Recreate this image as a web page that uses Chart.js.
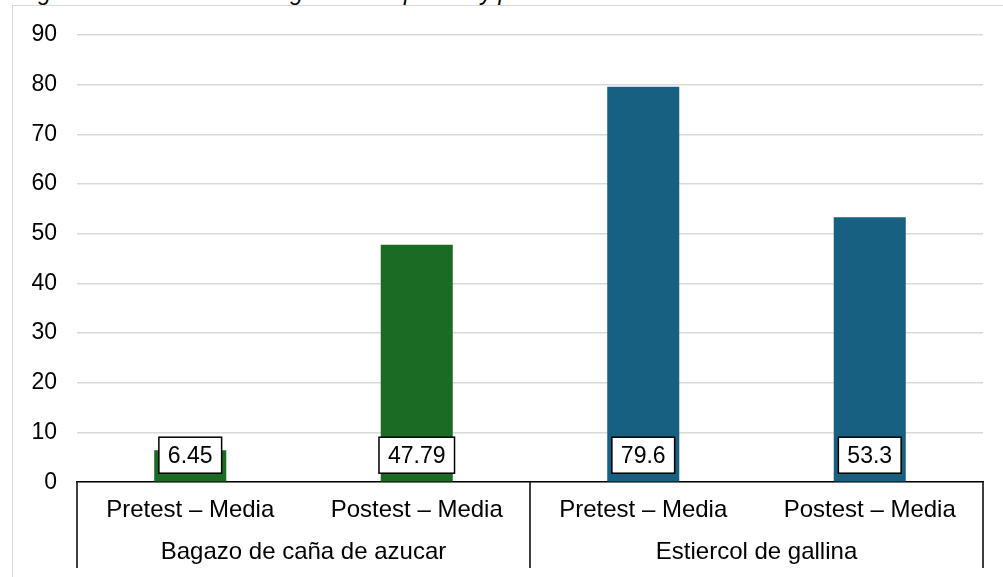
<!DOCTYPE html>
<html>
<head>
<meta charset="utf-8">
<script src="https://cdn.jsdelivr.net/npm/chart.js@4.4.0/dist/chart.umd.min.js"></script>
<style>
  html, body { margin: 0; padding: 0; background: #fff; overflow: hidden; }
  #wrap { position: relative; width: 1003px; height: 577px; }
  #frame {
    position: absolute; left: 12px; top: 5px; width: 1100px; height: 700px;
    border-left: 1px solid #d9d9d9; border-top: 1px solid #d9d9d9;
  }
  #caption {
    position: absolute; left: 14px; top: -21px; white-space: nowrap;
    font: italic 23px "Liberation Sans", Arial, sans-serif; color: #000;
  }
  #chartBox { position: absolute; left: 0; top: 0; width: 1003px; height: 577px; }
</style>
</head>
<body>
<div id="wrap">
  <div id="caption">según el contenido de nitrógeno en el pretest y postest</div>
  <div id="frame"></div>
  <div id="chartBox"><canvas id="barChart"></canvas></div>
</div>
<script>
// Data
const categories = ['Pretest – Media', 'Postest – Media', 'Pretest – Media', 'Postest – Media'];
const groups = ['Bagazo de caña de azucar', 'Estiercol de gallina'];
const groupSizes = [2, 2];
const values = [6.45, 47.79, 79.6, 53.3];
const valueLabels = ['6.45', '47.79', '79.6', '53.3'];
const barColors = ['#1b6b24', '#1b6b24', '#176082', '#176082'];
const yTicks = [0, 10, 20, 30, 40, 50, 60, 70, 80, 90];

const FONT = '"Liberation Sans", Arial, sans-serif';

/**
 * Boxed value labels sitting at the foot of each bar
 */
const boxLabels = {
  id: 'boxLabels',
  afterDatasetsDraw(chart) {
    const ctx = chart.ctx;
    const meta = chart.getDatasetMeta(0);
    const yBase = chart.scales.y.getPixelForValue(0);
    ctx.save();
    ctx.font = '23px ' + FONT;
    ctx.textAlign = 'center';
    ctx.textBaseline = 'middle';
    meta.data.forEach((bar, i) => {
      const text = valueLabels[i];
      const w = ctx.measureText(text).width + 18;
      const h = 36;
      const cy = yBase - 9 - h / 2;
      ctx.fillStyle = '#fff';
      ctx.fillRect(bar.x - w / 2, cy - h / 2, w, h);
      ctx.strokeStyle = '#000';
      ctx.lineWidth = 1.5;
      ctx.strokeRect(bar.x - w / 2, cy - h / 2, w, h);
      ctx.fillStyle = '#000';
      ctx.fillText(text, bar.x, cy + 1);
    });
    ctx.restore();
  }
};

/**
 * Second row of category labels with separators
 */
const groupAxis = {
  id: 'groupAxis',
  afterDraw(chart) {
    const ctx = chart.ctx;
    const x = chart.scales.x;
    const y0 = chart.scales.y.getPixelForValue(0);
    const half = (x.getPixelForValue(1) - x.getPixelForValue(0)) / 2;
    const bottom = chart.height - 9;
    ctx.save();
    ctx.strokeStyle = '#000';
    ctx.lineWidth = 1.5;
    ctx.font = '24px ' + FONT;
    ctx.fillStyle = '#000';
    ctx.textAlign = 'center';
    ctx.textBaseline = 'middle';
    let start = 0;
    const edges = [x.getPixelForValue(0) - half];
    groups.forEach((g, gi) => {
      const end = start + groupSizes[gi] - 1;
      const left = x.getPixelForValue(start) - half;
      const right = x.getPixelForValue(end) + half;
      edges.push(right);
      ctx.fillText(g, (left + right) / 2, y0 + 70);
      start = end + 1;
    });
    edges.forEach(px => {
      ctx.beginPath();
      ctx.moveTo(px, y0);
      ctx.lineTo(px, bottom);
      ctx.stroke();
    });
    ctx.restore();
  }
};

new Chart(document.getElementById('barChart'), {
  type: 'bar',
  data: {
    labels: categories,
    datasets: [{
      data: values,
      backgroundColor: barColors,
      borderWidth: 0,
      categoryPercentage: 1,
      barPercentage: 0.318
    }]
  },
  options: {
    responsive: true,
    maintainAspectRatio: false,
    animation: false,
    layout: { padding: { top: 35, right: 20, bottom: 38, left: 0 } },
    plugins: {
      legend: { display: false },
      tooltip: { enabled: false }
    },
    scales: {
      x: {
        grid: { display: false, drawTicks: false },
        border: { display: true, color: '#000', width: 1.5 },
        ticks: {
          color: '#000',
          padding: 14,
          font: { family: FONT, size: 24 },
          maxRotation: 0,
          autoSkip: false
        }
      },
      y: {
        min: 0,
        max: 90,
        afterFit(scale) { scale.width = 77; },
        afterBuildTicks(scale) { scale.ticks = yTicks.map(v => ({ value: v })); },
        grid: { color: '#d9d9d9', lineWidth: 1.5, drawTicks: false },
        border: { display: false },
        ticks: {
          color: '#000',
          padding: 20,
          font: { family: FONT, size: 23 }
        }
      }
    }
  },
  plugins: [boxLabels, groupAxis]
});
</script>
</body>
</html>
